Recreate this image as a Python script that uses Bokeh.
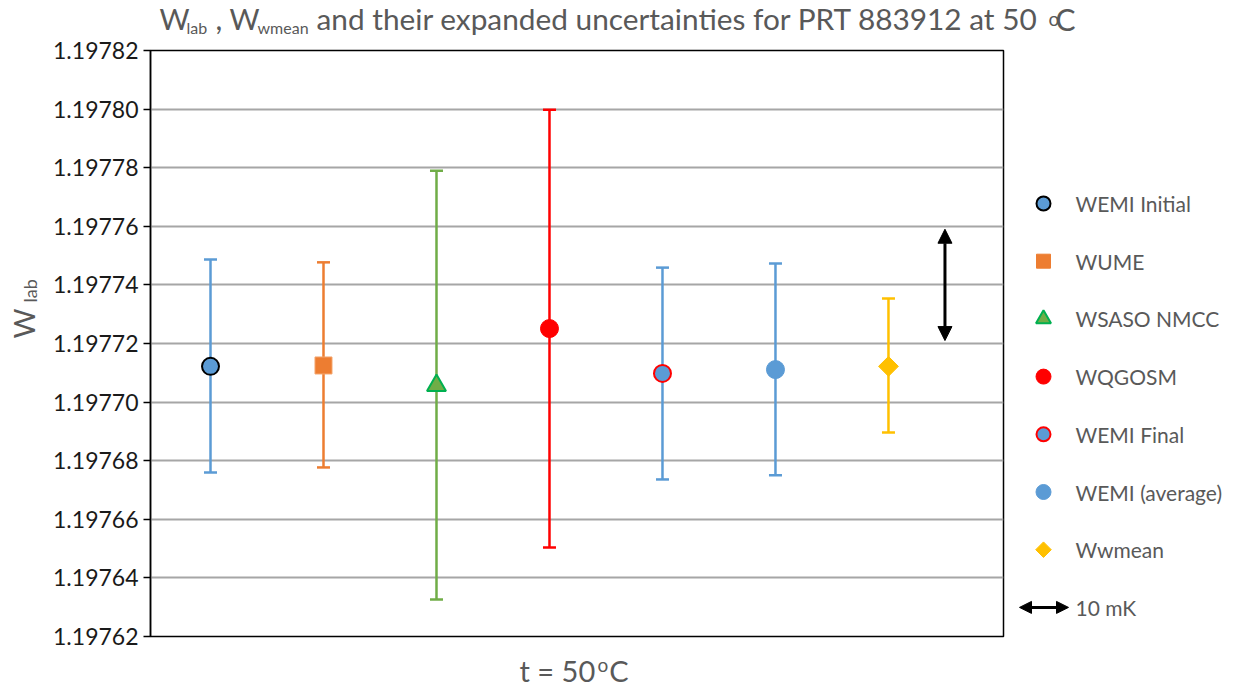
import math
from bokeh.plotting import figure
from bokeh.layouts import column, row
from bokeh.models import (Range1d, ColumnDataSource, Label, Arrow, NormalHead,
                          FixedTicker, PrintfTickFormatter)
from bokeh.embed import file_html
from bokeh.resources import INLINE

# ---------------- data ----------------
series = ["WEMI Initial", "WUME", "WSASO NMCC", "WQGOSM", "WEMI Final", "WEMI (average)", "Wwmean"]
positions = [1, 2, 3, 4, 5, 6, 7]
values = [1.1977122, 1.1977125, 1.1977057, 1.1977251, 1.1977098, 1.1977111, 1.1977122]
upper = [1.1977487, 1.1977477, 1.1977790, 1.1977998, 1.1977459, 1.1977473, 1.1977354]
lower = [1.1976760, 1.1976777, 1.1976326, 1.1976504, 1.1976736, 1.1976750, 1.1976896]
bar_colors = ["#5b9bd5", "#ed7d31", "#70ad47", "#ff0000", "#5b9bd5", "#5b9bd5", "#ffc000"]
y_ticks = [1.19762, 1.19764, 1.19766, 1.19768, 1.19770, 1.19772, 1.19774, 1.19776, 1.19778, 1.19780, 1.19782]
scale_arrow_x = 7.5
scale_arrow_y = [1.197721, 1.197759]   # 10 mK scale bar
scale_label = "10 mK"

X0, X1 = 0.469, 8.018
Y0, Y1 = 1.19762, 1.19782

FONT = "Lato"
GREY = "#595959"
W, H = 1240, 687
TOP_H = 36          # title strip
LEFT_W = 40         # y-title strip
MAIN_BL, MAIN_BR, MAIN_BT, MAIN_BB = 110, 3, 14, 15
FRAME_W, FRAME_H = 853, 586
MAIN_W = MAIN_BL + FRAME_W + MAIN_BR
MID_H = MAIN_BT + FRAME_H + MAIN_BB
RIGHT_W = W - LEFT_W - MAIN_W


def strip(w, h, x0, x1, y0, y1):
    f = figure(width=w, height=h, output_backend="svg", toolbar_location=None,
               x_range=Range1d(x0, x1), y_range=Range1d(y1, y0),
               x_axis_type=None, y_axis_type=None, min_border=0, title=None,
               frame_align=False)
    f.outline_line_color = None
    f.background_fill_color = "white"
    f.border_fill_color = "white"
    return f


def lab(f, px, py, text, size, color=GREY, angle=0.0, align="left"):
    # py is the vertical centre of the em box
    f.add_layout(Label(x=px, y=py, text=text, text_font=FONT, text_font_size=f"{size}px",
                       text_color=color, text_baseline="middle", text_align=align, angle=angle))


# ---------------- main plot ----------------
p = figure(width=MAIN_W, height=MID_H, output_backend="svg", toolbar_location=None,
           x_range=Range1d(X0, X1), y_range=Range1d(Y0, Y1),
           min_border_left=MAIN_BL, min_border_right=MAIN_BR, min_border_top=MAIN_BT,
           min_border_bottom=MAIN_BB, title=None, frame_align=False)
p.background_fill_color = "white"
p.border_fill_color = "white"
p.outline_line_color = "black"
p.outline_line_width = 1.5

p.xaxis.visible = False
p.xgrid.visible = False
p.yaxis.ticker = FixedTicker(ticks=y_ticks)
p.yaxis.formatter = PrintfTickFormatter(format="%.5f")
p.yaxis.axis_line_color = "black"
p.yaxis.axis_line_width = 1.5
p.yaxis.major_tick_line_color = "black"
p.yaxis.major_tick_line_width = 1.5
p.yaxis.major_tick_out = 7
p.yaxis.major_tick_in = 0
p.yaxis.minor_tick_line_color = None
p.yaxis.major_label_standoff = 5
p.yaxis.major_label_text_font = FONT
p.yaxis.major_label_text_font_size = "23px"
p.yaxis.major_label_text_color = "#1a1a1a"
p.ygrid.grid_line_color = "#a6a6a6"
p.ygrid.grid_line_width = 2

src = ColumnDataSource(dict(x=positions, v=values, up=upper, lo=lower, c=bar_colors))
p.segment(x0="x", y0="lo", x1="x", y1="up", source=src, line_color="c", line_width=2.5)
p.scatter(x="x", y="up", source=src, marker="dash", size=13, line_color="c", line_width=2.5)
p.scatter(x="x", y="lo", source=src, marker="dash", size=13, line_color="c", line_width=2.5)

styles = [
    dict(marker="circle", size=17, fill_color="#5b9bd5", line_color="black", line_width=2),
    dict(marker="square", size=17, fill_color="#ed7d31", line_color="#f4a46c", line_width=1),
    dict(marker="triangle", size=19, fill_color="#70ad47", line_color="#00b050", line_width=2),
    dict(marker="circle", size=18, fill_color="#ff0000", line_color="#ff0000", line_width=1),
    dict(marker="circle", size=17, fill_color="#5b9bd5", line_color="#ff0000", line_width=2),
    dict(marker="circle", size=18, fill_color="#5b9bd5", line_color="#5b9bd5", line_width=1),
    dict(marker="square", size=14, angle=math.pi / 4, fill_color="#ffc000", line_color="#ffc000", line_width=1),
]
for i, st in enumerate(styles):
    p.scatter(x=[positions[i]], y=[values[i]], **st)

p.add_layout(Arrow(x_start=scale_arrow_x, y_start=scale_arrow_y[0], x_end=scale_arrow_x, y_end=scale_arrow_y[1],
                   line_color="black", line_width=3,
                   start=NormalHead(size=14, fill_color="black", line_color="black"),
                   end=NormalHead(size=14, fill_color="black", line_color="black")))

# ---------------- title strip ----------------
t = strip(W, TOP_H, 0, W, 0, TOP_H)
lab(t, 159, 18, "W", 29)
lab(t, 186, 26.5, "lab", 16)
lab(t, 215, 18, ",", 30)
lab(t, 229, 18, "W", 29)
lab(t, 257, 26.5, "wmean", 16)
lab(t, 316, 18, "and their expanded uncertainties for PRT 883912 at 50", 29.8)
lab(t, 1048, 17.5, "o", 19)
lab(t, 1075, 18, "C", 30, align="right")

# ---------------- left strip (y title) ----------------
lf = strip(LEFT_W, MID_H, 0, LEFT_W, TOP_H, TOP_H + MID_H)
lab(lf, 22.5, 338, "W", 29, angle=math.pi / 2)
lab(lf, 29.5, 302, "lab", 18, angle=math.pi / 2)

# ---------------- legend strip ----------------
rx0 = LEFT_W + MAIN_W
lg = strip(RIGHT_W, MID_H, rx0, W, TOP_H, TOP_H + MID_H)
leg_styles = [
    dict(marker="circle", size=14, fill_color="#5b9bd5", line_color="black", line_width=2),
    dict(marker="square", size=14, fill_color="#ed7d31", line_color="#ed7d31", line_width=1),
    dict(marker="triangle", size=15, fill_color="#70ad47", line_color="#00b050", line_width=2),
    dict(marker="circle", size=15, fill_color="#ff0000", line_color="#ff0000", line_width=1),
    dict(marker="circle", size=14, fill_color="#5b9bd5", line_color="#ff0000", line_width=2),
    dict(marker="circle", size=15, fill_color="#5b9bd5", line_color="#5b9bd5", line_width=1),
    dict(marker="square", size=11, angle=math.pi / 4, fill_color="#ffc000", line_color="#ffc000", line_width=1),
]
row0, pitch = 203, 57.7
for i, st in enumerate(leg_styles):
    yy = row0 + i * pitch
    lg.scatter(x=[1043], y=[yy], **st)
    lab(lg, 1075, yy, series[i], 21)
ya = row0 + 7 * pitch
lg.add_layout(Arrow(x_start=1019, y_start=ya, x_end=1068, y_end=ya, line_color="black", line_width=3,
                    start=NormalHead(size=12, fill_color="black", line_color="black"),
                    end=NormalHead(size=12, fill_color="black", line_color="black")))
lab(lg, 1075, ya, scale_label, 21)

# ---------------- bottom strip (x title) ----------------
b = strip(W, H - TOP_H - MID_H, 0, W, TOP_H + MID_H, H)
lab(b, 519, 670, "t = 50", 29)
lab(b, 597, 664, "o", 19)
lab(b, 628, 670, "C", 29, align="right")

layout = column(t, row(lf, p, lg), b)
open("out.html", "w").write(file_html(layout, INLINE))
